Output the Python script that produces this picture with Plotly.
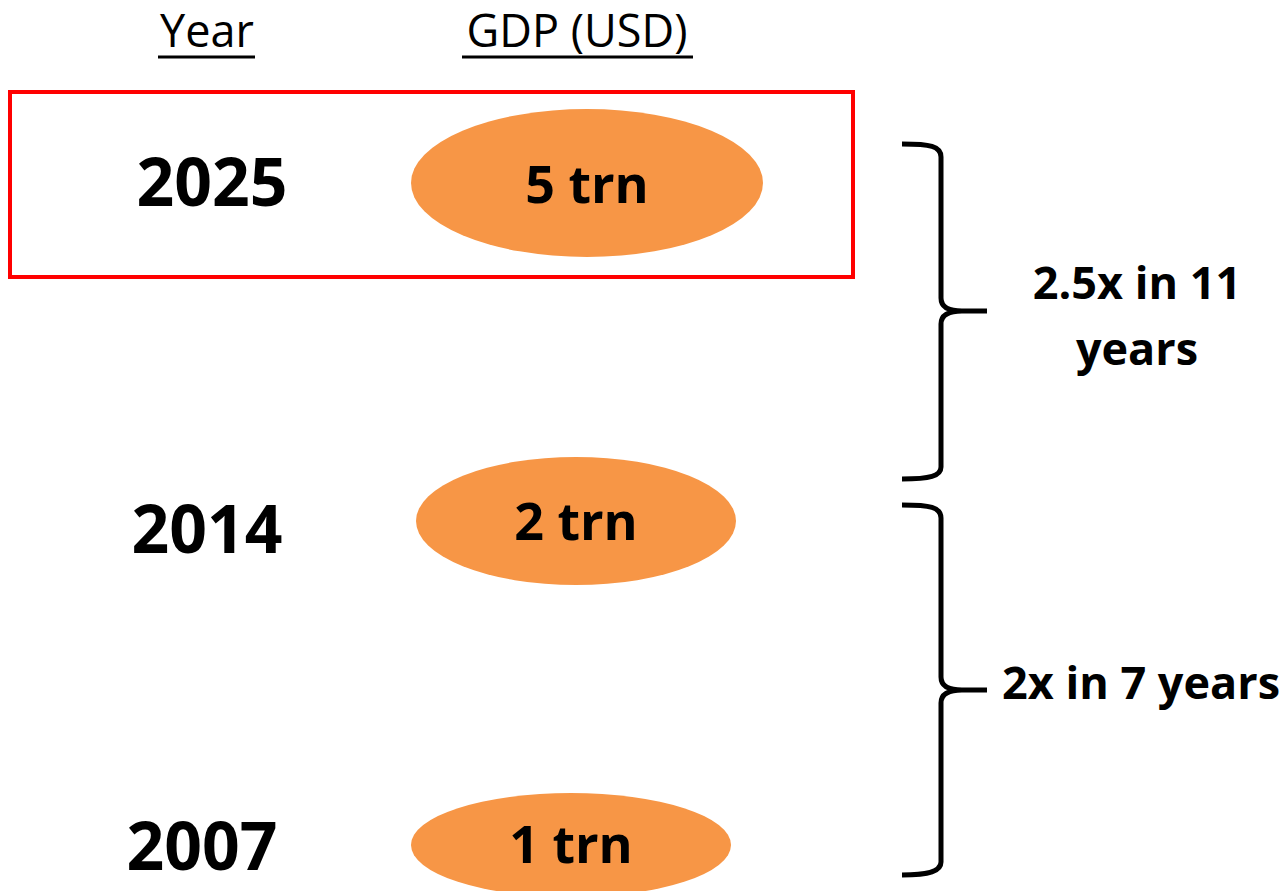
import plotly.graph_objects as go

# ---- data ----
years = ["2025", "2014", "2007"]
gdp_labels = ["5 trn", "2 trn", "1 trn"]
growth_labels = ["2.5x in 11<br>years", "2x in 7 years"]
headers = ["Year", "GDP (USD)"]

# ---- layout constants (pixel space of the page) ----
W, H = 1283, 891
row_y = [183, 521, 845]
year_x = [212, 207, 202]
year_y = [189, 536, 853]
gdp_x = [587, 576, 571]
gdp_y = [190, 527, 850]
ell_rx = [176, 160, 160]
ell_ry = [74, 64, 52]
FONT = "Open Sans"
ORANGE = "#F79646"

fig = go.Figure()

# ellipses
for cx, cy, rx, ry in zip(gdp_x, row_y, ell_rx, ell_ry):
    fig.add_shape(type="circle", xref="x", yref="y",
                  x0=cx - rx, x1=cx + rx, y0=cy - ry, y1=cy + ry,
                  fillcolor=ORANGE, line=dict(width=0), layer="below")

# highlight box around the 2025 row
fig.add_shape(type="rect", xref="x", yref="y", x0=10, x1=853, y0=92, y1=277,
              line=dict(color="#FF0000", width=4), fillcolor="rgba(0,0,0,0)")

# braces
brace1 = ("M902,144 C930,144 941,146 941,157 L941,298 C941,307 948,311 962,311 L987,311 "
          "M962,311 C948,311 941,315 941,324 L941,467 C941,476 930,479 902,479")
brace2 = ("M902,505 C930,505 941,507 941,518 L941,677 C941,686 948,690 962,690 L987,690 "
          "M962,690 C948,690 941,694 941,703 L941,862 C941,871 930,875 902,875")
for p in (brace1, brace2):
    fig.add_shape(type="path", xref="x", yref="y", path=p,
                  line=dict(color="black", width=5))

# header underlines
for x0, x1 in [(158, 255), (462, 693)]:
    fig.add_shape(type="line", xref="x", yref="y", x0=x0, x1=x1, y0=57, y1=57,
                  line=dict(color="black", width=3))

common = dict(mode="text", textposition="middle center", hoverinfo="skip",
              showlegend=False, cliponaxis=False)

# year labels
fig.add_trace(go.Scatter(x=year_x, y=year_y, text=years,
                         textfont=dict(family=FONT, size=66, color="black", weight="bold"),
                         **common))
# gdp labels
fig.add_trace(go.Scatter(x=gdp_x, y=gdp_y, text=gdp_labels,
                         textfont=dict(family=FONT, size=52, color="black", weight="bold"),
                         **common))
# headers
fig.add_trace(go.Scatter(x=[207, 577], y=[36, 36], text=headers,
                         textfont=dict(family=FONT, size=45, color="black"),
                         **common))
# growth labels (each line placed separately for exact line spacing)
gx, gy, gt = [], [], []
for (cx, cy), lab in zip([(1137, 288), (1141, 688)], growth_labels):
    for i, line in enumerate(lab.split("<br>")):
        gx.append(cx)
        gy.append(cy + i * 66)
        gt.append(line)
fig.add_trace(go.Scatter(x=gx, y=gy, text=gt,
                         textfont=dict(family=FONT, size=45, color="black", weight="bold"),
                         **common))

fig.update_layout(
    width=W, height=H, autosize=False,
    margin=dict(l=0, r=0, t=0, b=0),
    paper_bgcolor="white", plot_bgcolor="white",
    xaxis=dict(range=[0, W], visible=False, fixedrange=True),
    yaxis=dict(range=[H, 0], visible=False, fixedrange=True),
    showlegend=False,
)

fig.write_html("out.html", config={"displayModeBar": False},
               post_script="document.body.style.margin='0px';")
